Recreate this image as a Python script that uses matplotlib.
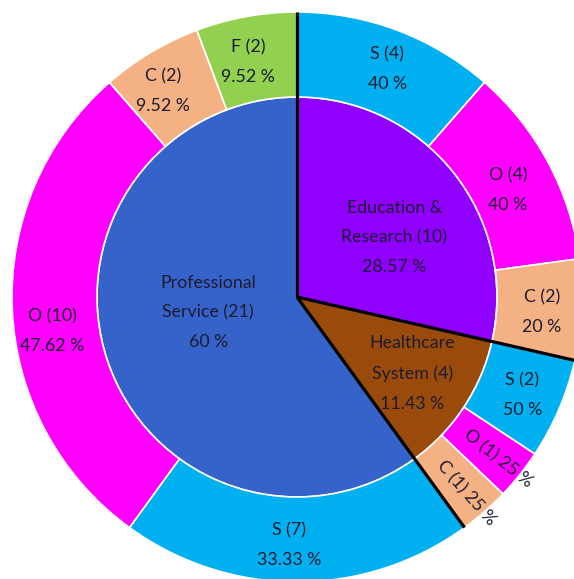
"""
Nested pie (sunburst) of service groups and their S / O / C / F breakdown.
"""

import numpy as np
import matplotlib.pyplot as plt

# ── data ───────────────────────────────────────────────────────────────────────
groups       = ["Education &\nResearch", "Healthcare\nSystem", "Professional\nService"]
group_counts = [10, 4, 21]

# sub-categories per group, in drawing order (clockwise from 12 o'clock)
sub_codes  = [["S", "O", "C"], ["S", "O", "C"], ["S", "O", "C", "F"]]
sub_counts = [[4, 4, 2],       [2, 1, 1],       [7, 10, 2, 2]]

# ── style ──────────────────────────────────────────────────────────────────────
group_colors = ["#8F00FF", "#9A4A0A", "#3563C9"]
code_colors  = {"S": "#00B0F0", "O": "#FF00FF", "C": "#F4B183", "F": "#92D050"}
text_color   = "#1c1c30"
font         = "Lato"
fsize        = 12.8

PX    = 285.0          # outer radius in pixels
R_OUT = 1.0
R_IN  = 200 / PX

# inner label placement (angle clockwise from top in deg, radius)
inner_pos = [(58.5, 0.40), (123.5, 0.485), (260.0, 0.316)]
# small hand nudges of the outer labels, pixels (right, down)
outer_nudge = [(4, 2), (-5, 9), (0, 4),
               (0, 2), (0, 2), (0, 3),
               (-8, 3), (0, 23), (-8, 5), (-5, 6)]


def pct_str(v):
    return f"{round(v, 2):g}"


def polar(theta_deg, r):
    t = np.deg2rad(theta_deg)
    return r * np.sin(t), r * np.cos(t)


fig = plt.figure(figsize=(5.74, 5.79), dpi=100)
ax = fig.add_axes([0, 0, 1, 1])

total = sum(group_counts)

# inner ring
ax.pie(group_counts, radius=R_IN, colors=group_colors, startangle=90,
       counterclock=False,
       wedgeprops=dict(edgecolor="white", linewidth=1.2))

# outer ring
flat_counts = [c for sub in sub_counts for c in sub]
flat_colors = [code_colors[k] for sub in sub_codes for k in sub]
ax.pie(flat_counts, radius=R_OUT, colors=flat_colors, startangle=90,
       counterclock=False,
       wedgeprops=dict(width=R_OUT - R_IN, edgecolor="white", linewidth=1.2))

# black separators between groups
start = 0.0
bounds = [0.0]
for c in group_counts:
    start += c / total * 360
    bounds.append(start)
for b in bounds[:-1]:
    x, y = polar(b, R_OUT)
    ax.plot([0, x], [0, y], color="black", lw=2.3, solid_capstyle="butt", zorder=5)

# inner labels
for g, c, (ang, r) in zip(groups, group_counts, inner_pos):
    x, y = polar(ang, r)
    ax.text(x, y, f"{g} ({c})\n{pct_str(c / total * 100)} %", ha="center",
            va="center", fontsize=fsize, family=font, color=text_color,
            linespacing=2.05, zorder=6)

# outer labels
theta = 0.0
i = 0
for g_tot, codes, counts in zip(group_counts, sub_codes, sub_counts):
    for k, n in zip(codes, counts):
        span = n / total * 360
        mid = theta + span / 2
        label_pct = pct_str(n / g_tot * 100)
        ndx, ndy = outer_nudge[i]
        if span < 15:
            # thin wedge: one line, along the radius
            x, y = polar(mid, 0.9)
            ax.text(x + ndx / PX, y - ndy / PX, f"{k} ({n}) {label_pct} %",
                    ha="center", va="center", rotation=90 - mid,
                    rotation_mode="anchor", fontsize=fsize, family=font,
                    color=text_color, zorder=6)
        else:
            x, y = polar(mid, 0.86)
            ax.text(x + ndx / PX, y - ndy / PX, f"{k} ({n})\n{label_pct} %",
                    ha="center", va="center", fontsize=fsize, family=font,
                    color=text_color, linespacing=2.05, zorder=6)
        theta += span
        i += 1

# centre of the pie sits at pixel (297, 297), outer radius 285 px
ax.set_aspect("auto")
ax.set_xlim(-297 / PX, (574 - 297) / PX)
ax.set_ylim(-(579 - 297) / PX, 297 / PX)
ax.axis("off")

fig.savefig("out.png", dpi=100)
